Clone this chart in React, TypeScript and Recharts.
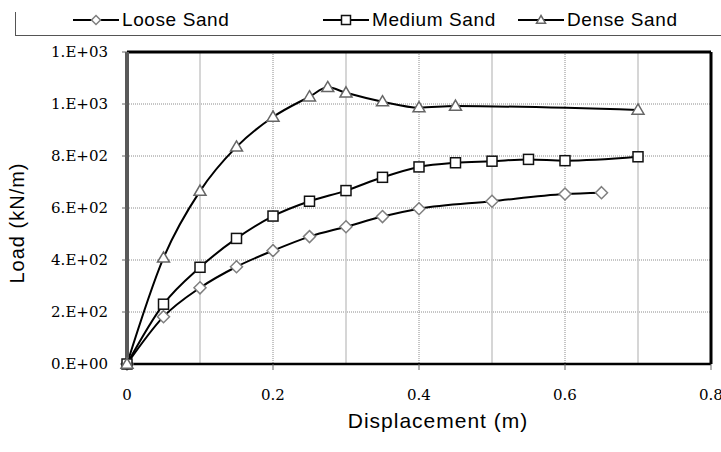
import React from "react";
import { CartesianGrid, Label, Line, LineChart, ReferenceLine, XAxis, YAxis } from "recharts";

const LOOSE_X = [0, 0.05, 0.1, 0.15, 0.2, 0.25, 0.3, 0.35, 0.4, 0.5, 0.6, 0.65];
const LOOSE_Y = [0, 182, 293, 374, 436, 490, 528, 567, 597, 626, 654, 659];
const MEDIUM_X = [0, 0.05, 0.1, 0.15, 0.2, 0.25, 0.3, 0.35, 0.4, 0.45, 0.5, 0.55, 0.6, 0.7];
const MEDIUM_Y = [0, 230, 372, 483, 569, 626, 667, 718, 758, 774, 780, 787, 782, 797];
const DENSE_X = [0, 0.05, 0.1, 0.15, 0.2, 0.25, 0.275, 0.3, 0.35, 0.4, 0.45, 0.7];
const DENSE_Y = [0, 408, 665, 835, 950, 1028, 1064, 1043, 1009, 986, 992, 977];

const X_TICKS = [0, 0.2, 0.4, 0.6, 0.8];
const X_MINOR = [0.1, 0.3, 0.5, 0.7];
const Y_TICKS = [0, 200, 400, 600, 800, 1000, 1200];

const SERIES = ["Loose Sand", "Medium Sand", "Dense Sand"];

const toRows = (xs: number[], ys: number[]) => xs.map((x, i) => ({ x, y: ys[i] }));

// Excel "0.E+00" style
const sci = (v: number) => {
  if (v === 0) return "0.E+00";
  const e = Math.floor(Math.log10(v));
  const m = Math.round(v / Math.pow(10, e));
  return `${m}.E+${String(e).padStart(2, "0")}`;
};

const Diamond = ({ cx, cy, r = 6 }: { cx: number; cy: number; r?: number }) => (
  <path
    d={`M${cx},${cy - r}L${cx + r},${cy}L${cx},${cy + r}L${cx - r},${cy}Z`}
    fill="#fff"
    stroke="#7f7f7f"
    strokeWidth={1.5}
  />
);

const Square = ({ cx, cy, r = 5 }: { cx: number; cy: number; r?: number }) => (
  <rect x={cx - r} y={cy - r} width={2 * r} height={2 * r} fill="#fff" stroke="#111" strokeWidth={1.5} />
);

const Triangle = ({ cx, cy, r = 6 }: { cx: number; cy: number; r?: number }) => (
  <path
    d={`M${cx},${cy - r}L${cx + r},${cy + r * 0.7}L${cx - r},${cy + r * 0.7}Z`}
    fill="#fff"
    stroke="#666"
    strokeWidth={1.5}
  />
);

const MARKERS = [Diamond, Square, Triangle];

const dotFor = (Marker: typeof Diamond) => (p: any) => (
  <Marker key={`d${p.index}`} cx={p.cx} cy={p.cy} />
);

const LEGEND_POS = [73, 323, 518];

const SANS = "Liberation Sans, Arial, sans-serif";

export default function App() {
  const sets = [
    toRows(LOOSE_X, LOOSE_Y),
    toRows(MEDIUM_X, MEDIUM_Y),
    toRows(DENSE_X, DENSE_Y),
  ];

  return (
    <div style={{ position: "absolute", left: 0, top: 0, width: 721, height: 452, background: "#fff" }}>
      <div
        style={{
          position: "absolute",
          left: 15,
          top: 12,
          width: 706,
          height: 23,
          borderLeft: "1px solid #555",
          borderBottom: "1px solid #555",
        }}
      />
      {SERIES.map((name, i) => {
        const Marker = MARKERS[i];
        return (
          <div
            key={name}
            style={{
              position: "absolute",
              left: LEGEND_POS[i],
              top: 8,
              height: 24,
              display: "flex",
              alignItems: "center",
              fontFamily: SANS,
              fontSize: 19,
              letterSpacing: 0.6,
              color: "#000",
            }}
          >
            <svg width={46} height={20} style={{ marginRight: 3 }}>
              <line x1={0} y1={10} x2={46} y2={10} stroke="#000" strokeWidth={2} />
              <Marker cx={23} cy={10} r={4.5} />
            </svg>
            {name}
          </div>
        );
      })}
      <LineChart
        width={721}
        height={452}
        margin={{ top: 52, right: 10, bottom: 0, left: 0 }}
        style={{ position: "absolute", left: 0, top: 0 }}
      >
        <CartesianGrid stroke="#8c8c8c" strokeDasharray="1 1" />
        {X_MINOR.map((x) => (
          <ReferenceLine key={x} x={x} stroke="#c8c8c8" strokeWidth={1.5} />
        ))}
        <XAxis
          type="number"
          dataKey="x"
          domain={[0, 0.8]}
          ticks={X_TICKS}
          height={88}
          tickSize={6}
          tickMargin={19}
          tickLine={{ stroke: "#666" }}
          axisLine={{ stroke: "#000", strokeWidth: 2.5 }}
          tick={{ fontFamily: "DejaVu Serif", fontSize: 15, fill: "#000" }}
          allowDuplicatedCategory={false}
        >
          <Label
            content={() => (
              <text
                x={438}
                y={428}
                textAnchor="middle"
                fontFamily={SANS}
                fontSize={21}
                letterSpacing={1}
                fill="#000"
              >
                Displacement (m)
              </text>
            )}
          />
        </XAxis>
        <YAxis
          type="number"
          domain={[0, 1200]}
          ticks={Y_TICKS}
          width={127}
          tickSize={5}
          tickMargin={14}
          tickFormatter={sci}
          tickLine={{ stroke: "#666" }}
          axisLine={{ stroke: "#595959", strokeWidth: 4 }}
          tick={{ fontFamily: "DejaVu Serif", fontSize: 15, fill: "#000" }}
        >
          <Label
            content={() => (
              <text
                x={24}
                y={223}
                transform="rotate(-90 24 223)"
                textAnchor="middle"
                fontFamily={SANS}
                fontSize={20}
                letterSpacing={1}
                fill="#000"
              >
                Load (kN/m)
              </text>
            )}
          />
        </YAxis>
        <ReferenceLine y={1200} stroke="#000" strokeWidth={3} />
        <ReferenceLine x={0.8} stroke="#000" strokeWidth={3} />
        {sets.map((rows, i) => (
          <Line
            key={SERIES[i]}
            data={rows}
            dataKey="y"
            name={SERIES[i]}
            type="monotone"
            stroke="#000"
            strokeWidth={2}
            dot={dotFor(MARKERS[i])}
            activeDot={false}
            isAnimationActive={false}
          />
        ))}
      </LineChart>
    </div>
  );
}
